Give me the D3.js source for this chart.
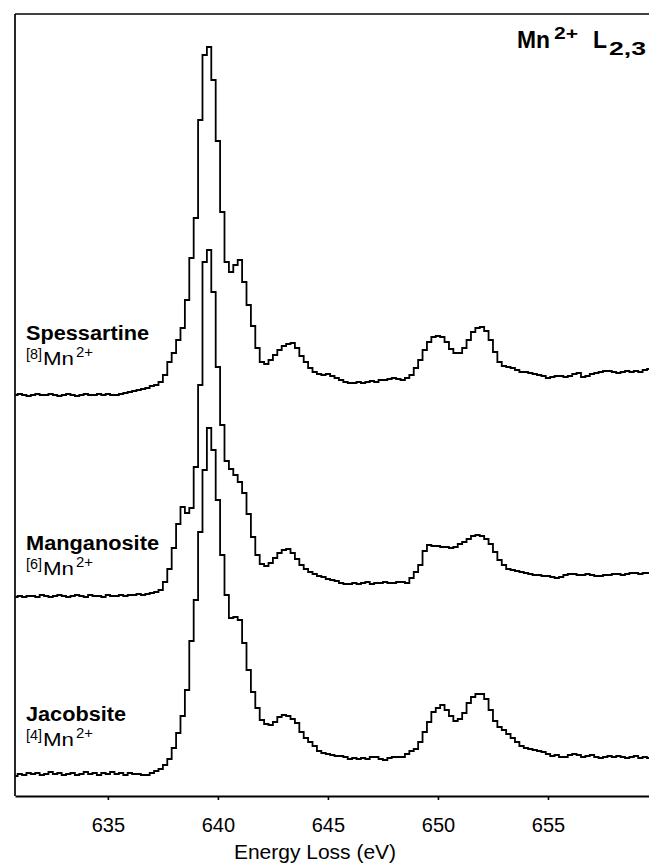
<!DOCTYPE html>
<html>
<head>
<meta charset="utf-8">
<script src="https://cdn.jsdelivr.net/npm/d3@7"></script>
<style>
  body { margin: 0; background: #fff; }
  text { font-family: "Liberation Sans", Arial, Helvetica, sans-serif; fill: #000; }
</style>
</head>
<body>
<svg id="chart" width="649" height="863"></svg>
<script>
// Mn L2,3 EELS spectra, one value per 0.2 eV channel (arbitrary units)
const startEnergy = 630.8;
const channelWidth = 0.2;

const spessartine = [
  11,12,11,10,11,12,11,11,12,11, 10,11,12,11,10,11,12,11,11,12,
  11,12,11,11,12,13,14,15,16,17, 18,20,21,24,31,44,53,66,78,106,
  148,188,286,351,359,326,265,194,144,134, 141,146,124,101,80,58,44,42,46,51,
  56,60,62,63,58,50,44,38,34,32, 31,32,30,28,26,24,23,23,24,23,
  24,25,24,26,26,27,28,27,26,28, 31,38,46,56,64,69,70,69,64,57,
  53,53,58,66,74,78,79,75,66,54, 44,40,39,38,36,34,34,33,32,31,
  30,28,29,30,30,29,30,32,33,29, 30,32,33,34,35,35,34,33,34,35,
  34,35,34,36,37,37
];

const manganosite = [
  19,20,19,20,20,19,21,20,19,20, 21,20,19,20,21,20,19,21,20,20,
  19,21,20,20,21,20,21,21,22,21, 22,23,24,26,34,47,68,92,109,103,
  108,149,231,354,366,324,249,191,155,147, 141,134,123,102,79,61,52,50,53,58,
  63,66,67,63,57,51,47,44,42,40, 39,37,36,35,33,32,32,33,32,33,
  34,32,33,33,34,33,33,34,34,33, 38,44,51,65,71,70,70,69,69,68,
  69,72,74,77,80,81,80,77,72,64, 56,51,47,46,45,44,43,42,41,41,
  40,40,39,38,39,41,42,42,41,41, 42,41,40,40,41,41,42,42,41,42,
  43,43,42,43,43,43
];

const jacobsite = [
  20,22,21,23,22,23,21,22,24,22, 23,21,22,23,21,22,24,22,23,21,
  23,22,24,22,23,21,23,22,22,21, 21,23,25,27,31,37,48,63,80,106,
  155,196,264,326,368,346,296,241,201,178, 179,176,153,126,104,88,76,72,71,74,
  79,81,80,77,73,64,58,54,50,45, 43,42,41,40,40,39,37,38,37,38,
  37,39,39,37,36,38,39,39,39,42, 45,47,54,64,74,84,88,91,86,80,
  75,77,83,93,99,102,102,97,86,75, 69,66,62,58,54,50,48,47,46,45,
  44,42,40,41,39,39,41,42,41,39, 40,41,39,38,39,40,39,40,39,38,
  39,40,38,39,38,38
];

const seriesNames = ["Spessartine", "Manganosite", "Jacobsite"];
const siteNumbers = ["8", "6", "4"];
const offsets = [390, 180, 0];
const xTicks = [635, 640, 645, 650, 655];
const xDomain = [630.78, 660];
const yDomain = [0, 782];

const svg = d3.select("#chart");
const plotLeft = 15, plotRight = 658, plotTop = 14, plotBottom = 796;

const x = d3.scaleLinear().domain(xDomain).range([plotLeft, plotRight]);
const y = d3.scaleLinear().domain(yDomain).range([plotBottom, plotTop]);

// frame: left and top edges
svg.append("line").attr("x1", plotLeft).attr("x2", plotLeft).attr("y1", plotTop).attr("y2", plotBottom)
  .attr("stroke", "#000").attr("stroke-width", 1.7);
svg.append("line").attr("x1", plotLeft).attr("x2", plotRight).attr("y1", plotTop).attr("y2", plotTop)
  .attr("stroke", "#000").attr("stroke-width", 1.7);

// spectra
const spectra = [spessartine, manganosite, jacobsite];
spectra.forEach((vals, k) => {
  const line = d3.line()
    .x((d, i) => x(startEnergy + i * channelWidth))
    .y(d => y(d + offsets[k]))
    .curve(d3.curveStep);
  svg.append("path").datum(vals)
    .attr("d", line)
    .attr("fill", "none")
    .attr("stroke", "#000")
    .attr("stroke-width", 1.8)
    .attr("stroke-linejoin", "miter");
});

// energy axis
const axis = svg.append("g").attr("transform", `translate(0,${plotBottom})`)
  .call(d3.axisBottom(x).tickValues(xTicks).tickSize(4).tickSizeOuter(0).tickPadding(18)
    .tickFormat(d3.format("d")));
axis.select(".domain").attr("stroke-width", 2.2);
axis.selectAll(".tick line").attr("stroke-width", 1.6);
axis.selectAll(".tick text").attr("font-size", 20)
  .style("font-family", "'Liberation Sans', Arial, sans-serif");

svg.append("text").attr("x", 315).attr("y", 859)
  .attr("text-anchor", "middle").attr("font-size", 21)
  .text("Energy Loss (eV)");

// helper: text stretched horizontally to a given width
function wideText(parent, str, px, py, size, width, bold) {
  return parent.append("text").attr("x", px).attr("y", py)
    .attr("font-size", size).attr("font-weight", bold ? "bold" : "normal")
    .attr("textLength", width).attr("lengthAdjust", "spacingAndGlyphs")
    .text(str);
}

// spectrum labels
const labelBase = [340, 550, 721];
const nameWidths = [123, 133, 100];
seriesNames.forEach((name, k) => {
  const g = svg.append("g");
  wideText(g, name, 26, labelBase[k], 20, nameWidths[k], true);
  const b = labelBase[k] + 25;
  wideText(g, `[${siteNumbers[k]}]`, 26, b - 6, 14, 16, false);
  wideText(g, "Mn", 43, b, 19, 31, false);
  wideText(g, "2+", 76, b - 8, 14, 17, false);
});

// edge label: Mn2+ L2,3
const edge = svg.append("g");
wideText(edge, "Mn", 517, 48, 23, 33, true);
wideText(edge, "2+", 554, 39, 16, 24, true);
wideText(edge, "L", 593, 48, 23, 14, true);
wideText(edge, "2,3", 609, 55, 19, 37, true);
</script>
</body>
</html>
